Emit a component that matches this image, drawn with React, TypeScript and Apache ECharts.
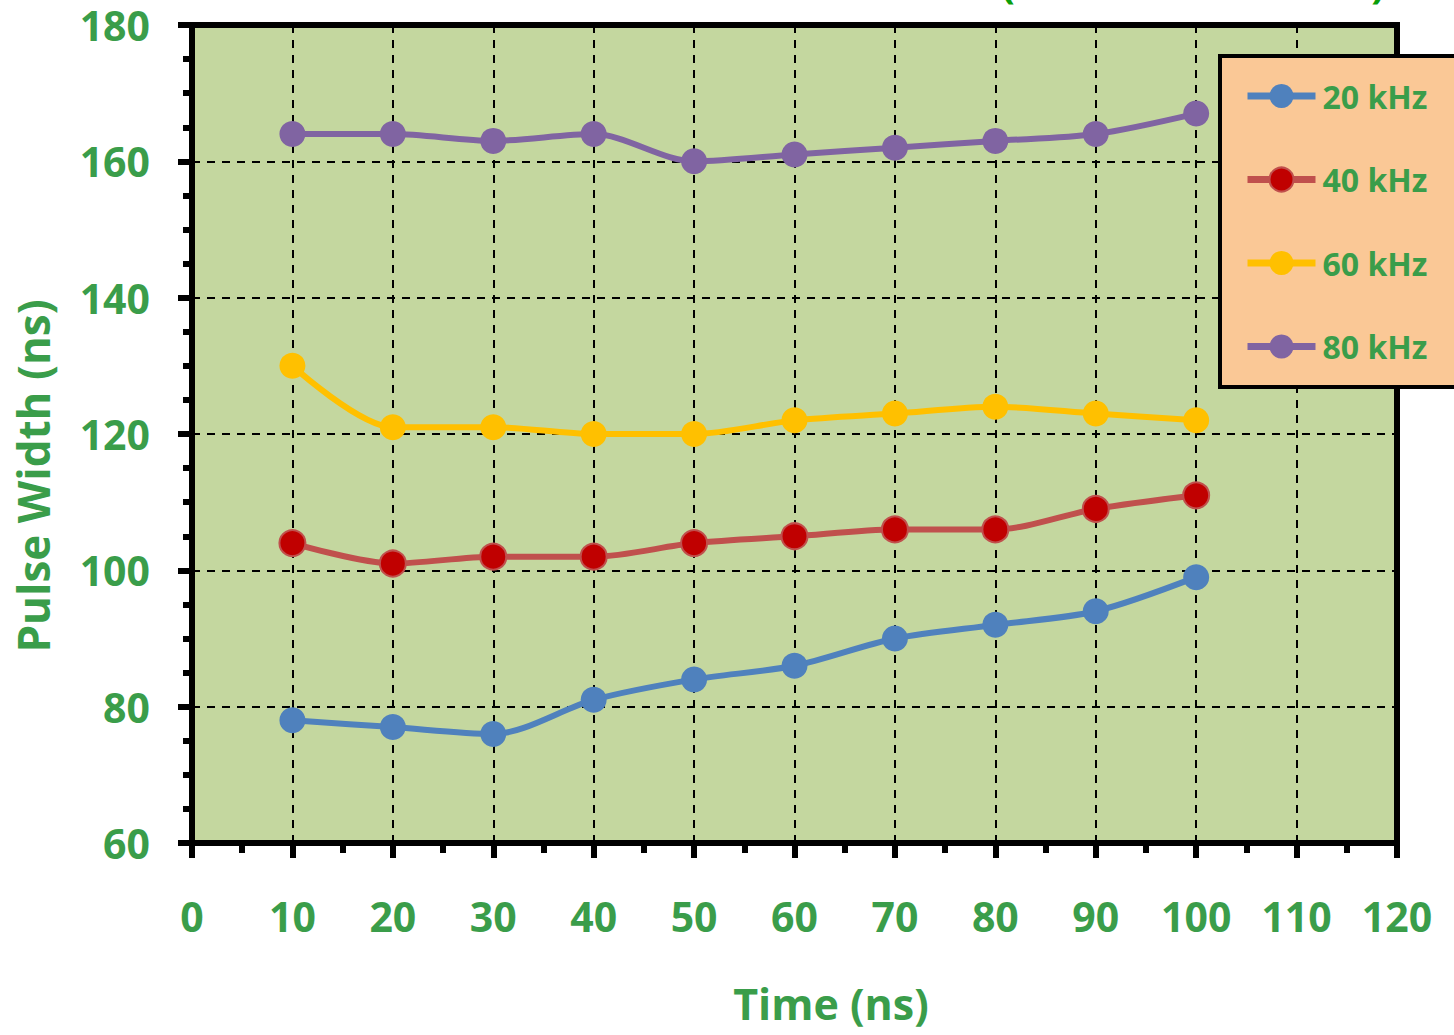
import React, { useEffect, useRef } from "react";
import * as echarts from "echarts";

// Time steps (ns) and measured pulse widths (ns) per repetition frequency
const timeNs = [10, 20, 30, 40, 50, 60, 70, 80, 90, 100];
const pw20kHz = [78, 77, 76, 81, 84, 86, 90, 92, 94, 99];
const pw40kHz = [104, 101, 102, 102, 104, 105, 106, 106, 109, 111];
const pw60kHz = [130, 121, 121, 120, 120, 122, 123, 124, 123, 122];
const pw80kHz = [164, 164, 163, 164, 160, 161, 162, 163, 164, 167];

const seriesNames = ["20 kHz", "40 kHz", "60 kHz", "80 kHz"];
const seriesValues = [pw20kHz, pw40kHz, pw60kHz, pw80kHz];
const lineColors = ["#4F81BD", "#C0504D", "#FFC000", "#8064A2"];
const markerFills = ["#4F81BD", "#C00000", "#FFC000", "#8064A2"];

const GREEN = "#3A9D4A";
const FONT = "'Open Sans', 'DejaVu Sans', sans-serif";

export default function App() {
  const ref = useRef<HTMLDivElement>(null);

  useEffect(() => {
    if (!ref.current) return;
    const chart = echarts.init(ref.current, undefined, { renderer: "svg" });

    const series = seriesNames.map((name, i) => ({
      name,
      type: "line",
      data: timeNs.map((t, j) => [t, seriesValues[i][j]]),
      smooth: 0.3,
      symbol: "circle",
      symbolSize: 26,
      lineStyle: { color: lineColors[i], width: 6 },
      itemStyle: {
        color: markerFills[i],
        borderColor: lineColors[i],
        borderWidth: i === 1 ? 2 : 0,
      },
      z: 3 + i,
    }));

    chart.setOption({
      animation: false,
      grid: {
        left: 192,
        right: 57,
        top: 25,
        bottom: 192,
        show: true,
        backgroundColor: "#C4D79F",
        borderColor: "#000",
        borderWidth: 6,
      },
      legend: {
        orient: "vertical",
        left: 1244,
        top: 80,
        data: seriesNames,
        padding: 0,
        itemWidth: 68,
        itemHeight: 30,
        itemGap: 51.5,
        lineStyle: { width: 7 },
        textStyle: {
          color: GREEN,
          fontFamily: FONT,
          fontWeight: "bold",
          fontSize: 32,
          padding: [0, 0, 0, 2],
        },
        z: 10,
      },
      xAxis: {
        type: "value",
        min: 0,
        max: 120,
        interval: 10,
        axisLine: { show: true, onZero: false, lineStyle: { color: "#000", width: 6 } },
        axisTick: { show: true, inside: false, length: 15, lineStyle: { color: "#000", width: 6 } },
        minorTick: { show: true, splitNumber: 2, length: 10, lineStyle: { color: "#000", width: 6 } },
        splitLine: { show: true, lineStyle: { color: "#000", width: 2, type: [8, 7] } },
        axisLabel: {
          color: GREEN,
          fontFamily: FONT,
          fontWeight: "bold",
          fontSize: 41,
          lineHeight: 41,
          margin: 52,
        },
      },
      yAxis: {
        type: "value",
        min: 60,
        max: 180,
        interval: 20,
        axisLine: { show: true, onZero: false, lineStyle: { color: "#000", width: 6 } },
        axisTick: { show: true, inside: false, length: 14, lineStyle: { color: "#000", width: 6 } },
        minorTick: { show: true, splitNumber: 4, length: 9, lineStyle: { color: "#000", width: 6 } },
        splitLine: { show: true, lineStyle: { color: "#000", width: 2, type: [8, 7] } },
        axisLabel: {
          color: GREEN,
          fontFamily: FONT,
          fontWeight: "bold",
          fontSize: 41,
          margin: 42,
        },
      },
      graphic: [
        // legend panel, running off the right edge of the canvas
        {
          type: "rect",
          z: 5,
          shape: { x: 1220, y: 56, width: 400, height: 331 },
          style: { fill: "#FAC896", stroke: "#000", lineWidth: 4 },
        },
        {
          type: "text",
          x: 33,
          y: 476,
          rotation: Math.PI / 2,
          style: {
            text: "Pulse Width (ns)",
            fill: GREEN,
            font: `bold 44px ${FONT}`,
            textAlign: "center",
            textVerticalAlign: "middle",
          },
        },
        {
          type: "text",
          x: 831,
          y: 1003,
          style: {
            text: "Time (ns)",
            fill: GREEN,
            font: `bold 43px ${FONT}`,
            lineHeight: 43,
            textAlign: "center",
            textVerticalAlign: "middle",
          },
        },
        {
          type: "text",
          x: 1008,
          y: -38,
          style: {
            text: "(",
            fill: "#0A9E0A",
            font: `bold 40px ${FONT}`,
            textAlign: "center",
            textVerticalAlign: "top",
          },
        },
        {
          type: "text",
          x: 1378,
          y: -38,
          style: {
            text: ")",
            fill: "#0A9E0A",
            font: `bold 40px ${FONT}`,
            textAlign: "center",
            textVerticalAlign: "top",
          },
        },
      ],
      series,
    });

    return () => chart.dispose();
  }, []);

  return (
    <div
      ref={ref}
      style={{ position: "absolute", left: 0, top: 0, width: 1454, height: 1035, overflow: "hidden" }}
    />
  );
}
